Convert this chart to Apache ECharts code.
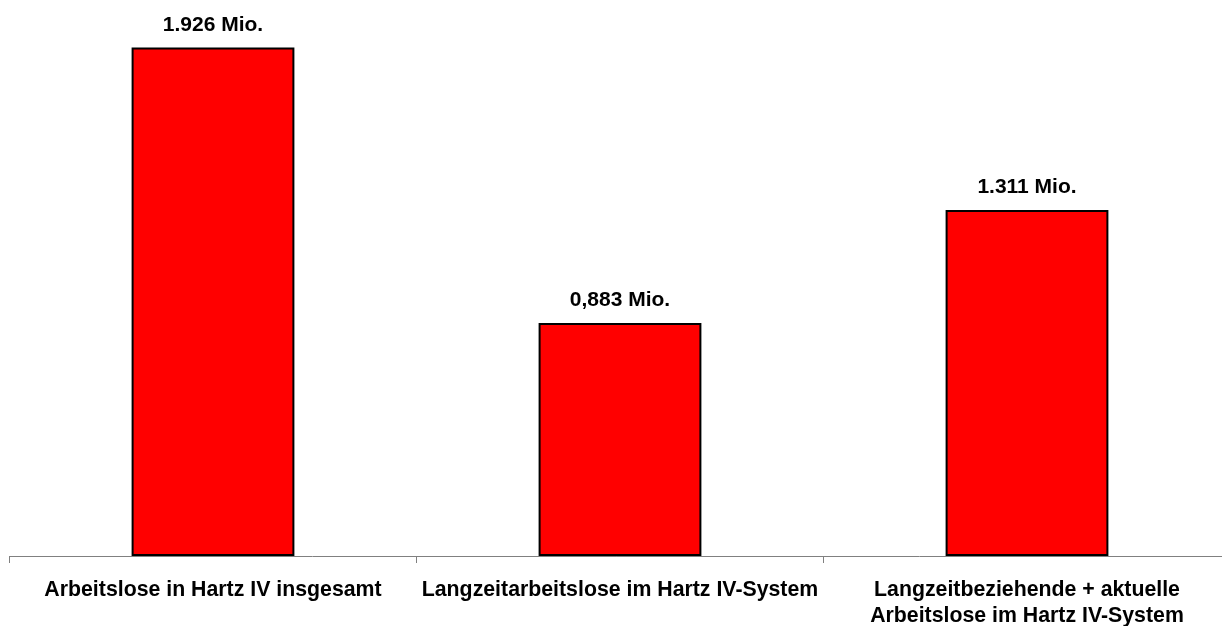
<!DOCTYPE html>
<html>
<head>
<meta charset="utf-8">
<script src="https://cdn.jsdelivr.net/npm/echarts@6/dist/echarts.min.js"></script>
<style>
  html, body { margin: 0; padding: 0; background: #ffffff; }
  #chart { width: 1222px; height: 626px; }
</style>
</head>
<body>
<div id="chart"></div>
<script>
// Arbeitslose im Hartz IV-System, in Millionen
const categories = [
  'Arbeitslose in Hartz IV insgesamt',
  'Langzeitarbeitslose im Hartz IV-System',
  'Langzeitbeziehende + aktuelle\nArbeitslose im Hartz IV-System'
];
const values = [1.926, 0.883, 1.311];
const valueLabels = ['1.926 Mio.', '0,883 Mio.', '1.311 Mio.'];

const chart = echarts.init(document.getElementById('chart'), null, { renderer: 'canvas' });

chart.setOption({
  animation: false,
  backgroundColor: '#ffffff',
  // the plot runs slightly past the right edge, so the last category is cut
  grid: {
    left: 9.5, width: 1221, top: 28, bottom: 70,
    containLabel: false,
    outerBoundsMode: 'none'
  },
  xAxis: {
    type: 'category',
    data: categories,
    axisLine: { lineStyle: { color: '#808080', width: 1 } },
    axisTick: { show: true, length: 7, lineStyle: { color: '#808080' } },
    axisLabel: {
      interval: 0,
      margin: 21,
      color: '#000000',
      fontFamily: 'Liberation Sans, Arial, sans-serif',
      fontWeight: 'bold',
      fontSize: 21.3,
      lineHeight: 26,
      align: 'center'
    }
  },
  yAxis: {
    type: 'value',
    min: 0,
    max: 2,
    show: false,
    splitLine: { show: false }
  },
  series: [{
    type: 'bar',
    data: values,
    barWidth: '40%',
    itemStyle: { color: '#ff0000', borderColor: '#000000', borderWidth: 2 },
    label: {
      show: true,
      position: 'top',
      distance: 12,
      color: '#000000',
      fontFamily: 'Liberation Sans, Arial, sans-serif',
      fontWeight: 'bold',
      fontSize: 21,
      formatter: (p) => valueLabels[p.dataIndex]
    }
  }]
});
</script>
</body>
</html>
